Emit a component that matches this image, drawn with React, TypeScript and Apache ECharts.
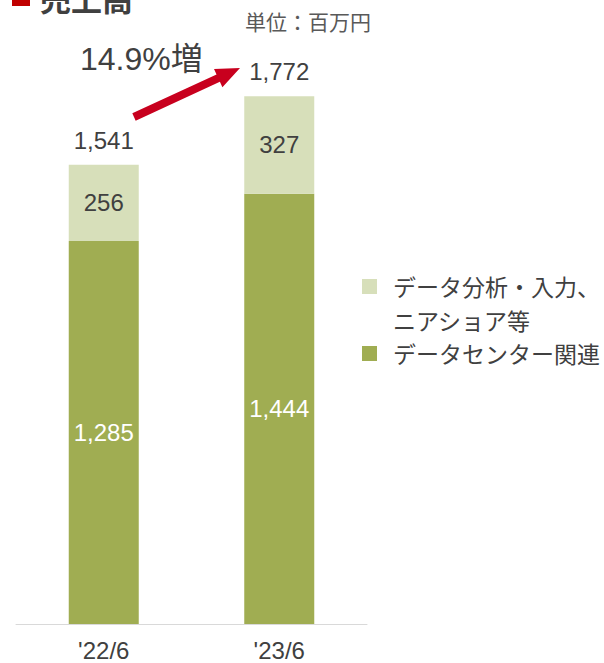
import React, { useEffect, useRef } from "react";
import * as echarts from "echarts";

const categories = ["'22/6", "'23/6"];
const seriesNames = ["データセンター関連", "データ分析・入力、ニアショア等"];
const dataCenter = [1285, 1444];
const dataAnalysis = [256, 327];
const totals = [1541, 1772];
const legendLines = ["データ分析・入力、", "ニアショア等"];

const DARK = "#a0ad52";
const LIGHT = "#d7dfba";
const TEXT = "#404040";
const FONT = "'Liberation Sans', Arial, 'Noto Sans CJK JP', sans-serif";
const JFONT = "'Noto Sans CJK JP', 'Liberation Sans', sans-serif";

function fmt(v: number) {
  return v.toLocaleString("en-US");
}

export default function App() {
  const ref = useRef<HTMLDivElement>(null);
  useEffect(() => {
    if (!ref.current) return;
    const chart = echarts.init(ref.current, null, { renderer: "svg" });
    // arrow geometry
    const tail = [134, 117];
    const tip = [240, 68];
    const dx = tip[0] - tail[0];
    const dy = tip[1] - tail[1];
    const len = Math.hypot(dx, dy);
    const u = [dx / len, dy / len];
    const n = [-u[1], u[0]];
    const headLen = 24;
    const base = [tip[0] - headLen * u[0], tip[1] - headLen * u[1]];
    const p = (pt: number[], k: number) => [pt[0] + k * n[0], pt[1] + k * n[1]];
    const arrowPts = [
      p(tail, -4),
      p(base, -4),
      p(base, -10),
      tip,
      p(base, 10),
      p(base, 4),
      p(tail, 4),
    ];
    chart.setOption({
      animation: false,
      grid: { left: 16, right: 237, top: 28, bottom: 39 },
      xAxis: {
        type: "category",
        data: categories,
        axisLine: { lineStyle: { color: "#d9d9d9", width: 1 } },
        axisTick: { show: false },
        axisLabel: { color: TEXT, fontSize: 24, fontFamily: FONT, margin: 14 },
      },
      yAxis: { type: "value", min: 0, max: 2000, show: false },
      series: [
        {
          name: seriesNames[0],
          type: "bar",
          stack: "a",
          barWidth: 70,
          data: dataCenter,
          itemStyle: { color: DARK },
          label: {
            show: true,
            position: "inside",
            color: "#ffffff",
            fontSize: 24,
            fontFamily: FONT,
            formatter: (p: any) => fmt(p.value),
          },
        },
        {
          name: seriesNames[1],
          type: "bar",
          stack: "a",
          barWidth: 70,
          data: dataAnalysis,
          itemStyle: { color: LIGHT },
          label: {
            show: true,
            position: "inside",
            color: TEXT,
            fontSize: 24,
            fontFamily: FONT,
            formatter: (p: any) => fmt(p.value),
          },
        },
        {
          name: "total",
          type: "bar",
          barWidth: 70,
          barGap: "-100%",
          data: totals,
          z: 1,
          silent: true,
          itemStyle: { color: "rgba(0,0,0,0)" },
          label: {
            show: true,
            position: "top",
            distance: 12,
            color: TEXT,
            fontSize: 24,
            fontFamily: FONT,
            formatter: (p: any) => fmt(p.value),
          },
        },
      ],
      graphic: [
        { type: "rect", shape: { x: 12, y: -12, width: 18, height: 18 }, style: { fill: "#c00000" } },
        {
          type: "text",
          x: 40,
          y: 13,
          style: { text: "売上高", font: `bold 31px ${JFONT}`, fill: TEXT, textVerticalAlign: "bottom" },
        },
        {
          type: "text",
          x: 245,
          y: 21,
          style: { text: "単位：百万円", font: `21px ${JFONT}`, fill: "#595959", textVerticalAlign: "middle" },
        },
        {
          type: "text",
          x: 80,
          y: 59,
          style: { text: "14.9%増", font: `32px ${FONT}`, fill: TEXT, textVerticalAlign: "middle" },
        },
        { type: "polygon", shape: { points: arrowPts }, style: { fill: "#c8001e" } },
        { type: "rect", shape: { x: 362, y: 279, width: 15, height: 15 }, style: { fill: LIGHT } },
        { type: "rect", shape: { x: 362, y: 346, width: 15, height: 15 }, style: { fill: DARK } },
        {
          type: "text",
          x: 393,
          y: 286,
          style: { text: legendLines[0], font: `23px ${JFONT}`, fill: TEXT, textVerticalAlign: "middle" },
        },
        {
          type: "text",
          x: 393,
          y: 320,
          style: { text: legendLines[1], font: `23px ${JFONT}`, fill: TEXT, textVerticalAlign: "middle" },
        },
        {
          type: "text",
          x: 393,
          y: 353,
          style: { text: seriesNames[0], font: `23px ${JFONT}`, fill: TEXT, textVerticalAlign: "middle" },
        },
      ],
    });
    return () => chart.dispose();
  }, []);
  return (
    <div
      ref={ref}
      style={{ position: "fixed", left: 0, top: 0, width: 604, height: 663, background: "#fff" }}
    />
  );
}
